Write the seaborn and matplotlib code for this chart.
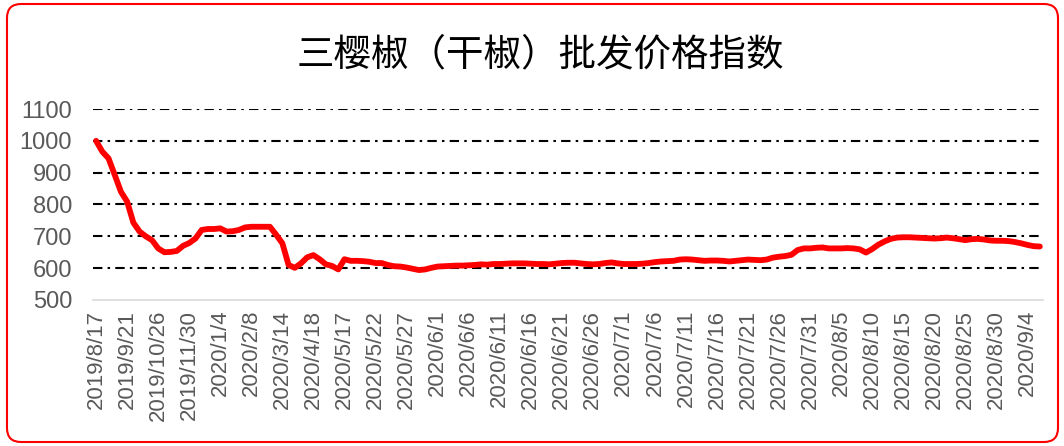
import matplotlib
matplotlib.use("Agg")
import matplotlib.pyplot as plt
import seaborn as sns
import pandas as pd
from matplotlib.patches import FancyBboxPatch

title = "三樱椒（干椒）批发价格指数"

tick_labels = ["2019/8/17", "2019/9/21", "2019/10/26", "2019/11/30", "2020/1/4",
               "2020/2/8", "2020/3/14", "2020/4/18", "2020/5/17", "2020/5/22",
               "2020/5/27", "2020/6/1", "2020/6/6", "2020/6/11", "2020/6/16",
               "2020/6/21", "2020/6/26", "2020/7/1", "2020/7/6", "2020/7/11",
               "2020/7/16", "2020/7/21", "2020/7/26", "2020/7/31", "2020/8/5",
               "2020/8/10", "2020/8/15", "2020/8/20", "2020/8/25", "2020/8/30",
               "2020/9/4"]

values = [1000, 966, 945, 893, 840, 809, 743, 715, 700, 688,
          662, 650, 651, 654, 670, 679, 693, 720, 723, 723,
          725, 715, 716, 720, 728, 730, 730, 730, 730, 705,
          678, 610, 601, 615, 634, 641, 628, 612, 607, 596,
          628, 623, 623, 622, 620, 616, 616, 610, 606, 605,
          602, 598, 594, 596, 601, 605, 606, 607, 608, 608,
          609, 610, 612, 611, 613, 613, 614, 615, 615, 615,
          614, 613, 613, 612, 614, 616, 617, 617, 615, 613,
          612, 613, 616, 618, 615, 613, 613, 613, 614, 616,
          619, 621, 622, 623, 627, 628, 627, 625, 623, 624,
          624, 623, 621, 623, 625, 627, 626, 625, 627, 633,
          636, 638, 642, 657, 662, 662, 664, 665, 662, 662,
          662, 663, 662, 659, 649, 660, 674, 684, 692, 696,
          697, 697, 696, 695, 694, 693, 694, 696, 694, 691,
          688, 691, 692, 690, 687, 686, 686, 685, 682, 678,
          673, 669, 668]

label_step = 5
y_ticks = [500, 600, 700, 800, 900, 1000, 1100]

df = pd.DataFrame({"idx": range(len(values)), "value": values})

sns.set_style("white")
plt.rcParams["font.family"] = ["Liberation Sans", "Noto Sans CJK SC", "DejaVu Sans"]

fig = plt.figure(figsize=(10.64, 4.46), dpi=100)
ax = fig.add_axes([0.0874, 0.3274, 0.8928, 0.4282])

for yv in y_ticks[1:]:
    ax.axhline(yv, color="black", lw=1.5, linestyle=(0, (4.5, 2.5, 1.2, 2.5)), zorder=1)

sns.lineplot(data=df, x="idx", y="value", ax=ax, color="#ff0000", lw=4.2, zorder=3)

ax.set_xlim(-0.5, len(values) - 0.5)
ax.set_ylim(500, 1100)
ax.set_yticks(y_ticks)
ax.set_yticklabels([str(v) for v in y_ticks])
ax.set_xticks(list(range(0, len(values), label_step))[:len(tick_labels)])
ax.set_xticklabels(tick_labels, rotation=90)
ax.set_xticks([i + 0.5 for i in range(-1, len(values))], minor=True)
ax.set_xlabel("")
ax.set_ylabel("")

ax.tick_params(axis="y", length=0, labelsize=17, labelcolor="#595959", pad=15)
ax.tick_params(axis="x", which="major", length=0, labelsize=16, labelcolor="#595959", pad=7)
ax.tick_params(axis="x", which="minor", length=5, width=1, color="#d9d9d9", direction="out")

for s in ["left", "top", "right"]:
    ax.spines[s].set_visible(False)
ax.spines["bottom"].set_color("#d9d9d9")
ax.spines["bottom"].set_linewidth(1.2)

fig.text(0.508, 0.877, title, ha="center", va="center", fontsize=27,
         family=["Noto Sans CJK SC", "DejaVu Sans"], color="black")

border = FancyBboxPatch((0.07, 0.04), 10.51, 4.38,
                        boxstyle="round,pad=0,rounding_size=0.14",
                        transform=fig.dpi_scale_trans, fill=False,
                        edgecolor="#ff0000", linewidth=1.5)
fig.patches.append(border)

fig.savefig("out.png", dpi=100)
